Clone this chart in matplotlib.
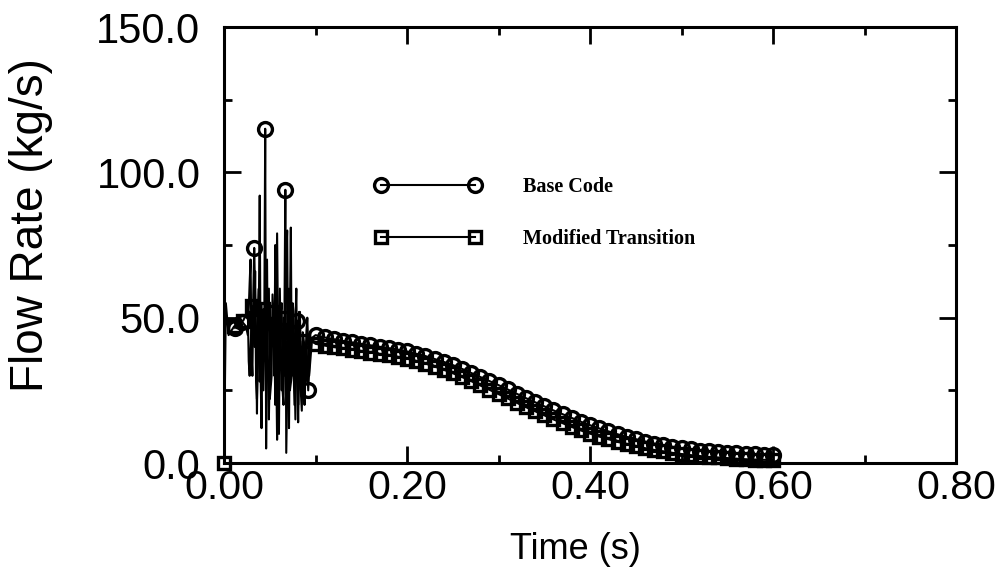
import numpy as np
import matplotlib
matplotlib.use('Agg')
import matplotlib.pyplot as plt
from matplotlib.ticker import MultipleLocator, FormatStrFormatter

# early oscillating part (0 - 0.1 s)
base_osc_t = [0.012, 0.020, 0.024, 0.026, 0.028, 0.029, 0.030, 0.031, 0.032, 0.033,
              0.035, 0.036, 0.037, 0.038, 0.039, 0.040, 0.041, 0.043, 0.044, 0.045,
              0.046, 0.047, 0.049, 0.050, 0.052, 0.053, 0.055, 0.056, 0.058, 0.060,
              0.061, 0.063, 0.064, 0.065, 0.066, 0.067, 0.068, 0.070, 0.071, 0.072,
              0.074, 0.075, 0.076, 0.078, 0.079, 0.080, 0.081, 0.082, 0.083, 0.085,
              0.086, 0.088, 0.089, 0.090, 0.092, 0.094, 0.096]
base_osc_v = [46.5, 48.5, 47, 44, 62, 70, 38, 30, 58, 74,
              40, 17, 52, 60, 28, 35, 55, 25, 48, 115,
              5, 45, 60, 22, 30, 58, 45, 20, 79, 10,
              48, 55, 25, 20, 50, 94, 3.5, 45, 60, 25,
              30, 55, 52, 15, 45, 49, 20, 52, 30, 18,
              45, 40, 28, 42, 25, 38, 43]
base_osc_mark_t = [0.012, 0.020, 0.033, 0.045, 0.067, 0.080, 0.092]

mod_osc_t = [0.000, 0.002, 0.005, 0.011, 0.021, 0.024, 0.026, 0.027, 0.028, 0.030,
             0.031, 0.033, 0.034, 0.035, 0.036, 0.038, 0.039, 0.040, 0.041, 0.042,
             0.043, 0.045, 0.047, 0.048, 0.049, 0.051, 0.052, 0.054, 0.055, 0.056,
             0.057, 0.058, 0.059, 0.061, 0.062, 0.063, 0.065, 0.066, 0.068, 0.069,
             0.070, 0.071, 0.072, 0.073, 0.074, 0.075, 0.077, 0.078, 0.079, 0.080,
             0.081, 0.083, 0.084, 0.086, 0.087, 0.088, 0.090, 0.091, 0.093, 0.096]
mod_osc_v = [0, 55, 44, 47, 49, 51, 52, 35, 30, 48,
             54, 40, 66, 28, 22, 50, 92, 30, 12, 45,
             53, 35, 70, 30, 15, 50, 40, 52, 30, 75,
             35, 8, 40, 60, 35, 25, 50, 30, 70, 80,
             35, 12, 50, 81, 30, 45, 20, 48, 60, 30,
             14, 52, 25, 42, 30, 20, 45, 50, 30, 42]
mod_osc_mark_t = [0.000, 0.011, 0.021, 0.031, 0.043, 0.054, 0.065, 0.075, 0.086]

# smooth decay (0.10 - 0.60 s, one sample every 0.01 s)
decay_t = [round(0.10 + 0.01 * i, 2) for i in range(51)]
base_decay = [44.0, 43.2, 42.6, 42.0, 41.5, 41.0, 40.5, 40.0, 39.5, 39.0,
              38.4, 37.6, 36.8, 35.8, 34.8, 33.7, 32.4, 31.0, 29.6, 28.2,
              26.8, 25.3, 23.8, 22.3, 20.9, 19.5, 18.1, 16.8, 15.5, 14.2,
              13.0, 11.9, 10.9, 9.9, 9.0, 8.2, 7.4, 6.7, 6.1, 5.6,
              5.1, 4.7, 4.3, 4.0, 3.7, 3.5, 3.3, 3.1, 3.0, 2.9, 2.8]
mod_decay = [41.0, 40.4, 39.9, 39.4, 39.0, 38.5, 38.0, 37.5, 37.0, 36.5,
             35.9, 35.1, 34.2, 33.2, 32.1, 30.9, 29.6, 28.2, 26.7, 25.2,
             23.7, 22.2, 20.7, 19.2, 17.8, 16.4, 15.0, 13.7, 12.4, 11.2,
             10.1, 9.1, 8.2, 7.3, 6.5, 5.8, 5.1, 4.5, 4.0, 3.5,
             3.1, 2.7, 2.4, 2.1, 1.9, 1.7, 1.5, 1.3, 1.2, 1.1, 1.0]

base_t = base_osc_t + decay_t
base_v = base_osc_v + base_decay
base_marks = [base_t.index(t) for t in base_osc_mark_t + decay_t]
mod_t = mod_osc_t + decay_t
mod_v = mod_osc_v + mod_decay
mod_marks = [mod_t.index(t) for t in mod_osc_mark_t + decay_t]

plt.rcParams['font.family'] = ['Liberation Sans', 'DejaVu Sans']

fig = plt.figure(figsize=(9.97, 5.80), dpi=100)
ax = fig.add_axes([0.2247, 0.2017, 0.7343, 0.7517])

ax.plot(mod_t, mod_v, color='black', lw=1.5, marker='s', ms=9, mfc='none',
        mew=2.4, markevery=mod_marks, label='Modified Transition', zorder=3,
        clip_on=False)
ax.plot(base_t, base_v, color='black', lw=1.5, marker='o', ms=10, mfc='none',
        mew=2.4, markevery=base_marks, label='Base Code', zorder=3,
        clip_on=False)

ax.set_xlim(0, 0.8)
ax.set_ylim(0, 150)
ax.xaxis.set_major_locator(MultipleLocator(0.2))
ax.xaxis.set_minor_locator(MultipleLocator(0.1))
ax.yaxis.set_major_locator(MultipleLocator(50))
ax.yaxis.set_minor_locator(MultipleLocator(25))
ax.xaxis.set_major_formatter(FormatStrFormatter('%.2f'))
ax.yaxis.set_major_formatter(FormatStrFormatter('%.1f'))
ax.tick_params(which='both', direction='in', top=True, right=True, width=2)
ax.tick_params(which='major', length=12)
ax.tick_params(which='minor', length=6)
ax.tick_params(axis='x', which='major', labelsize=29.5, pad=4)
ax.tick_params(axis='y', which='major', labelsize=30, pad=17)
for s in ax.spines.values():
    s.set_linewidth(2.2)

ax.set_xlabel('Time (s)', fontsize=26)
ax.xaxis.set_label_coords(0.48, -0.158)
ax.xaxis.label.set_va('top')
ax.set_ylabel('Flow Rate (kg/s)', fontsize=33)
ax.yaxis.set_label_coords(-0.233, 0.546)

h, l = ax.get_legend_handles_labels()
leg = ax.legend(h[::-1], l[::-1], loc='upper left', bbox_to_anchor=(0.2066, 0.656),
                frameon=False, numpoints=2, handlelength=5.25, handletextpad=2.1,
                labelspacing=1.6, borderpad=0, borderaxespad=0,
                prop={'family': 'Liberation Serif', 'weight': 'bold', 'size': 14.5})

fig.savefig('out.png', dpi=100)
